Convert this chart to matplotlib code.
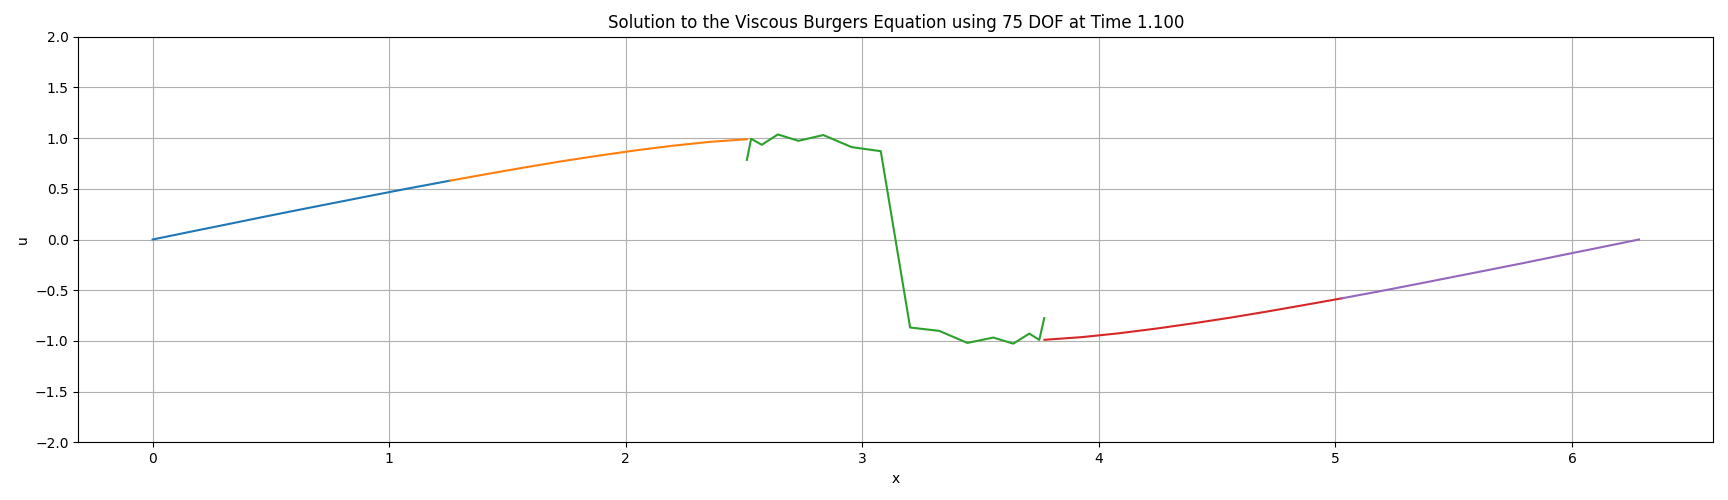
import matplotlib
matplotlib.use("Agg")
import matplotlib.pyplot as plt

# element-wise solution samples (5 elements on [0, 2pi])
x_e1 = [0.000, 0.157, 0.314, 0.471, 0.628, 0.785, 0.942, 1.100, 1.257]
u_e1 = [0.000, 0.075, 0.149, 0.224, 0.297, 0.369, 0.441, 0.512, 0.580]

x_e2 = [1.257, 1.414, 1.571, 1.728, 1.885, 2.042, 2.199, 2.356, 2.513]
u_e2 = [0.580, 0.646, 0.710, 0.771, 0.827, 0.879, 0.925, 0.963, 0.989]

x_e3 = [2.512, 2.530, 2.575, 2.643, 2.730, 2.835, 2.955, 3.078,
        3.202, 3.325, 3.444, 3.554, 3.638, 3.706, 3.748, 3.769]
u_e3 = [0.785, 0.993, 0.934, 1.036, 0.973, 1.030, 0.911, 0.871,
        -0.868, -0.901, -1.020, -0.967, -1.027, -0.928, -0.990, -0.775]

x_e4 = [3.770, 3.927, 4.084, 4.241, 4.398, 4.555, 4.712, 4.869, 5.027]
u_e4 = [-0.989, -0.963, -0.925, -0.879, -0.827, -0.771, -0.710, -0.646, -0.580]

x_e5 = [5.027, 5.184, 5.341, 5.498, 5.655, 5.812, 5.969, 6.126, 6.283]
u_e5 = [-0.580, -0.512, -0.441, -0.369, -0.297, -0.224, -0.149, -0.075, 0.000]

elements = [(x_e1, u_e1), (x_e2, u_e2), (x_e3, u_e3), (x_e4, u_e4), (x_e5, u_e5)]

fig, ax = plt.subplots(figsize=(17.28, 5.0), dpi=100)
fig.subplots_adjust(left=0.0453, right=0.9915, top=0.9266, bottom=0.1154)

for xs, us in elements:
    ax.plot(xs, us)

ax.set_ylim(-2, 2)
ax.set_xlabel("x")
ax.set_ylabel("u")
ax.set_title("Solution to the Viscous Burgers Equation using 75 DOF at Time 1.100")
ax.grid(True)

fig.savefig("out.png", dpi=100)
